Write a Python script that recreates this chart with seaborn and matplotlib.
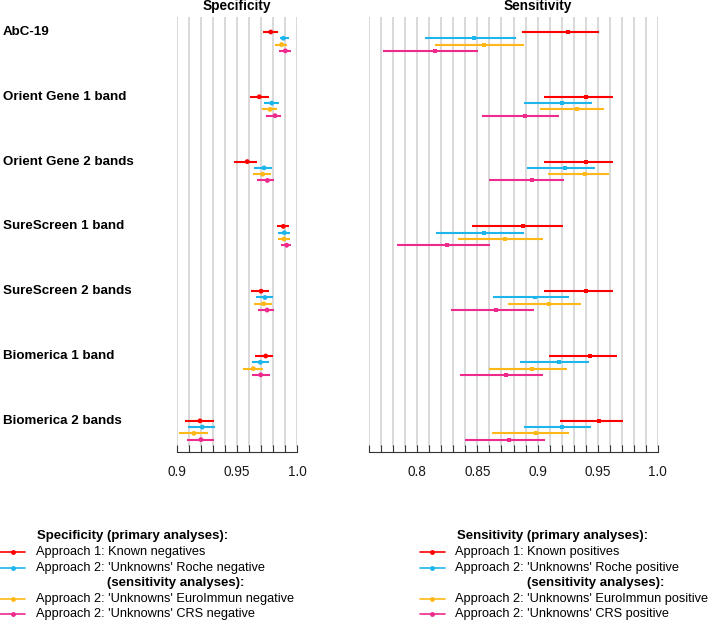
import numpy as np
import pandas as pd
import matplotlib
matplotlib.use("Agg")
import matplotlib.pyplot as plt
from matplotlib.lines import Line2D
import seaborn as sns

# ---------------- data ----------------
tests = ["AbC-19", "Orient Gene 1 band", "Orient Gene 2 bands", "SureScreen 1 band",
         "SureScreen 2 bands", "Biomerica 1 band", "Biomerica 2 bands"]

spec_known_est = [0.9780, 0.9685, 0.9585, 0.9884, 0.9700, 0.9738, 0.9193]
spec_known_lo = [0.9713, 0.9608, 0.9478, 0.9832, 0.9616, 0.9652, 0.9069]
spec_known_hi = [0.9842, 0.9768, 0.9663, 0.9929, 0.9768, 0.9796, 0.9312]

spec_roche_est = [0.9884, 0.9788, 0.9724, 0.9893, 0.9732, 0.9694, 0.9212]
spec_roche_lo = [0.9857, 0.9721, 0.9641, 0.9843, 0.9658, 0.9622, 0.9091]
spec_roche_hi = [0.9929, 0.9846, 0.9788, 0.9940, 0.9796, 0.9768, 0.9318]

spec_euro_est = [0.9870, 0.9774, 0.9713, 0.9890, 0.9721, 0.9635, 0.9143]
spec_euro_lo = [0.9818, 0.9705, 0.9633, 0.9843, 0.9644, 0.9552, 0.9022]
spec_euro_hi = [0.9912, 0.9829, 0.9779, 0.9937, 0.9788, 0.9713, 0.9257]

spec_crs_est = [0.9901, 0.9815, 0.9752, 0.9912, 0.9749, 0.9697, 0.9201]
spec_crs_lo = [0.9851, 0.9741, 0.9669, 0.9865, 0.9677, 0.9622, 0.9083]
spec_crs_hi = [0.9945, 0.9865, 0.9809, 0.9950, 0.9807, 0.9771, 0.9312]

sens_known_est = [0.9253, 0.9403, 0.9403, 0.8879, 0.9403, 0.9436, 0.9511]
sens_known_lo = [0.8873, 0.9051, 0.9051, 0.8452, 0.9051, 0.9095, 0.9184]
sens_known_hi = [0.9511, 0.9630, 0.9630, 0.9209, 0.9630, 0.9658, 0.9713]

sens_roche_est = [0.8474, 0.9203, 0.9228, 0.8554, 0.8976, 0.9176, 0.9203]
sens_roche_lo = [0.8063, 0.8884, 0.8914, 0.8155, 0.8627, 0.8854, 0.8884]
sens_roche_hi = [0.8818, 0.9450, 0.9475, 0.8887, 0.9259, 0.9425, 0.9447]

sens_euro_est = [0.8552, 0.9330, 0.9395, 0.8726, 0.9095, 0.8954, 0.8985]
sens_euro_lo = [0.8147, 0.9023, 0.9089, 0.8335, 0.8757, 0.8596, 0.8623]
sens_euro_hi = [0.8887, 0.9555, 0.9597, 0.9043, 0.9361, 0.9245, 0.9264]

sens_crs_est = [0.8147, 0.8893, 0.8951, 0.8246, 0.8654, 0.8735, 0.8760]
sens_crs_lo = [0.7717, 0.8540, 0.8596, 0.7833, 0.8277, 0.8357, 0.8394]
sens_crs_hi = [0.8507, 0.9181, 0.9222, 0.8604, 0.8970, 0.9043, 0.9059]

approaches = ["known", "roche", "euro", "crs"]
spec_legend = ["Approach 1: Known negatives", "Approach 2: 'Unknowns' Roche negative",
               "Approach 2: 'Unknowns' EuroImmun negative", "Approach 2: 'Unknowns' CRS negative"]
sens_legend = ["Approach 1: Known positives", "Approach 2: 'Unknowns' Roche positive",
               "Approach 2: 'Unknowns' EuroImmun positive", "Approach 2: 'Unknowns' CRS positive"]
spec_ticks = [0.9, 0.95, 1.0]
spec_tick_labels = ["0.9", "0.95", "1.0"]
sens_ticks = [0.8, 0.85, 0.9, 0.95, 1.0]
sens_tick_labels = ["0.8", "0.85", "0.9", "0.95", "1.0"]

colors = {"known": "#FF0000", "roche": "#1CB6EC", "euro": "#FFB817", "crs": "#EE2A8C"}

spec = {"known": (spec_known_est, spec_known_lo, spec_known_hi),
        "roche": (spec_roche_est, spec_roche_lo, spec_roche_hi),
        "euro": (spec_euro_est, spec_euro_lo, spec_euro_hi),
        "crs": (spec_crs_est, spec_crs_lo, spec_crs_hi)}
sens = {"known": (sens_known_est, sens_known_lo, sens_known_hi),
        "roche": (sens_roche_est, sens_roche_lo, sens_roche_hi),
        "euro": (sens_euro_est, sens_euro_lo, sens_euro_hi),
        "crs": (sens_crs_est, sens_crs_lo, sens_crs_hi)}

def long_df(d):
    rows = []
    for j, a in enumerate(approaches):
        est, lo, hi = d[a]
        for i, t in enumerate(tests):
            rows.append({"test": t, "approach": a, "y": i + j * 0.097,
                         "est": est[i], "lo": lo[i], "hi": hi[i]})
    return pd.DataFrame(rows)

spec_df = long_df(spec)
sens_df = long_df(sens)

# ---------------- figure ----------------
sns.set_style("white")
plt.rcParams["font.family"] = ["Liberation Sans", "DejaVu Sans"]
plt.rcParams["text.color"] = "black"

W, H = 714, 622
fig = plt.figure(figsize=(W / 100, H / 100), dpi=100)

def fx(px):
    return px / W

def fy(py):
    return 1 - py / H

top_px, bot_px = 17, 447
ylim = ((bot_px - 32) / 64.8, (top_px - 32) / 64.8)

def make_panel(x0, x1, xmin, xmax, df, title, title_x, ticks, tick_labels, marker, msize):
    ax = fig.add_axes([fx(x0), fy(bot_px), fx(x1) - fx(x0), (bot_px - top_px) / H])
    ax.set_xlim(xmin, xmax)
    ax.set_ylim(*ylim)
    for s in ax.spines.values():
        s.set_visible(False)
    ax.set_xticks([])
    ax.set_yticks([])
    grid = np.round(np.arange(xmin, xmax + 1e-9, 0.01), 2)
    ax.vlines(grid, ylim[1], ylim[0], color="#D3D3D3", lw=1.2, zorder=0)
    for a in approaches:
        sub = df[df["approach"] == a]
        ax.hlines(sub["y"], sub["lo"], sub["hi"], color=colors[a], lw=1.5, zorder=2, clip_on=False)
    sns.scatterplot(data=df, x="est", y="y", hue="approach", palette=colors, marker=marker,
                    s=msize, linewidth=0, legend=False, ax=ax, zorder=3, clip_on=False)
    ax.set_xlabel("")
    ax.set_ylabel("")
    ax.set_ylim(*ylim)
    ax.set_xlim(xmin, xmax)
    fig.text(fx(title_x), fy(6), title, ha="center", va="center", fontsize=9.8, fontweight="bold")

    # bottom axis
    bx = fig.add_axes([fx(x0), fy(452), fx(x1) - fx(x0), 0.0001])
    bx.set_xlim(xmin, xmax)
    for k, s in bx.spines.items():
        s.set_visible(k == "top")
    bx.spines["top"].set_color("#333333")
    bx.spines["top"].set_linewidth(0.8)
    bx.set_yticks([])
    bx.set_xticks(ticks)
    bx.set_xticklabels(tick_labels)
    bx.set_xticks(grid, minor=True)
    bx.tick_params(axis="x", which="both", direction="out", length=5, width=0.8, color="#333333",
                   labelsize=9.8, pad=4, labelcolor="#1a1a1a", top=True, bottom=False,
                   labeltop=False, labelbottom=True)
    return ax

make_panel(176.7, 297.3, 0.9, 1.0, spec_df, "Specificity", 236.5, spec_ticks, spec_tick_labels, "o", 12)
make_panel(369.3, 657.7, 0.76, 1.0, sens_df, "Sensitivity", 537.5, sens_ticks, sens_tick_labels, "s", 8)

# row labels
for i, t in enumerate(tests):
    fig.text(fx(3), fy(32 + 64.8 * i), t, ha="left", va="center", fontsize=9.6, fontweight="bold")

# legends
def legend_block(xline0, xline1, xtext, xtitle, xsub, title, labels):
    fig.text(fx(xtitle), fy(535.7), title, ha="left", va="center", fontsize=9.5, fontweight="bold")
    fig.text(fx(xsub), fy(583.3), "(sensitivity analyses):", ha="left", va="center",
             fontsize=9.5, fontweight="bold")
    ys = [551.7, 567.7, 599.0, 614.3]
    for a, lab, yy in zip(approaches, labels, ys):
        fig.add_artist(Line2D([fx(xline0), fx(xline1)], [fy(yy), fy(yy)], color=colors[a], lw=1.2,
                              transform=fig.transFigure))
        fig.add_artist(Line2D([fx((xline0 + xline1) / 2)], [fy(yy)], color=colors[a], marker="o",
                              markersize=3.5, markeredgewidth=0, transform=fig.transFigure))
        fig.text(fx(xtext), fy(yy), lab, ha="left", va="center", fontsize=9.2)

legend_block(0, 25, 36, 37, 107, "Specificity (primary analyses):", spec_legend)
legend_block(420, 445, 455, 457, 527, "Sensitivity (primary analyses):", sens_legend)

fig.savefig("out.png", dpi=100)
